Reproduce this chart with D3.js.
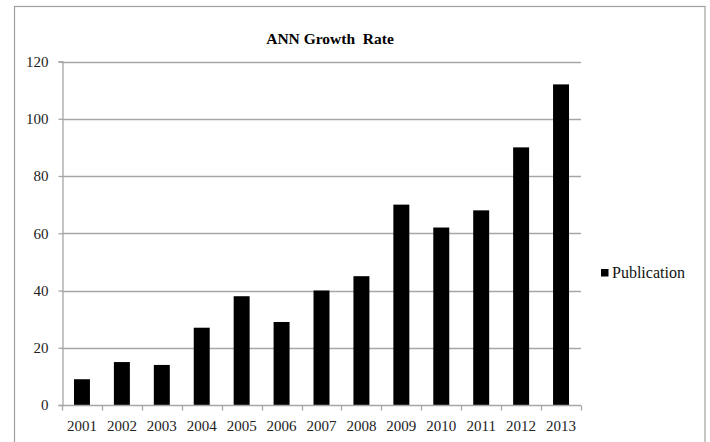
<!DOCTYPE html>
<html><head><meta charset="utf-8">
<script src="https://cdn.jsdelivr.net/npm/d3@7"></script>
<style>body{margin:0;background:#fff}svg{display:block}
svg text{font-family:"Liberation Serif","DejaVu Serif",serif}</style>
</head><body>
<svg id="c" width="710" height="442"></svg>
<script>
const years = ["2001","2002","2003","2004","2005","2006","2007","2008","2009","2010","2011","2012","2013"];
const publications = [9,15,14,27,38,29,40,45,70,62,68,90,112];
const yTicks = [0,20,40,60,80,100,120];
const titleText = "ANN Growth  Rate";
const seriesName = "Publication";

const svg = d3.select("#c");
const font = '"Liberation Serif","DejaVu Serif",serif';
const grid = "#a6a6a6";

svg.append("rect").attr("x",14.5).attr("y",6.5).attr("width",690.5).attr("height",450)
  .attr("fill","#fff").attr("stroke","#a0a0a0").attr("stroke-width",1.2);

const L=62, R=581, T=61.5, B=405;
const x = d3.scaleBand().domain(years).range([L,R]).paddingInner(0.6).paddingOuter(0.3);
const xb = d3.scaleBand().domain(years).range([L,R]);
const y = d3.scaleLinear().domain([0,120]).range([B,T]);

// gridlines
svg.append("g").selectAll("line").data(yTicks.filter(d=>d>0)).join("line")
  .attr("x1",L).attr("x2",R).attr("y1",d=>Math.round(y(d))+0.5).attr("y2",d=>Math.round(y(d))+0.5)
  .attr("stroke",grid).attr("stroke-width",1.3);

// bars
svg.append("g").selectAll("rect").data(years).join("rect")
  .attr("x",(d)=>x(d)).attr("width",x.bandwidth())
  .attr("y",(d,i)=>y(publications[i])).attr("height",(d,i)=>B-y(publications[i]))
  .attr("fill","#000");

// y axis
const ya = svg.append("g").attr("transform",`translate(${L+0.5},0)`)
  .call(d3.axisLeft(y).tickValues(yTicks).tickSize(4).tickPadding(10));
ya.attr("font-family",null);
ya.select(".domain").attr("stroke",grid).attr("stroke-width",1.3);
ya.selectAll(".tick line").attr("stroke",grid).attr("stroke-width",1.3);
ya.selectAll("text").style("font-family",font).style("font-size","15px").attr("fill","#222");

// x axis with ticks at band boundaries
const xa = svg.append("g").attr("transform",`translate(0,${Math.round(B)+0.5})`);
xa.append("line").attr("x1",L).attr("x2",R).attr("stroke",grid).attr("stroke-width",1.3);
const bounds = years.map(d=>xb(d)).concat([R]);
xa.selectAll("line.t").data(bounds).join("line").attr("class","t")
  .attr("x1",d=>Math.round(d)+0.5).attr("x2",d=>Math.round(d)+0.5).attr("y1",0).attr("y2",5)
  .attr("stroke",grid).attr("stroke-width",1.3);
xa.selectAll("text").data(years).join("text")
  .attr("x",d=>xb(d)+xb.bandwidth()/2).attr("y",25.5)
  .attr("text-anchor","middle").style("font-family",font).style("font-size","15px").attr("fill","#222")
  .text(d=>d);

// title
svg.append("text").attr("x",330).attr("y",44).attr("text-anchor","middle")
  .style("font-family",font).style("font-weight","bold").style("font-size","15.5px")
  .style("white-space","pre").text(titleText);

// legend
svg.append("rect").attr("x",601).attr("y",269).attr("width",7.5).attr("height",7.5).attr("fill","#000");
svg.append("text").attr("x",612).attr("y",278).style("font-family",font).style("font-size","16px").attr("fill","#111").text(seriesName);
</script>
</body></html>
